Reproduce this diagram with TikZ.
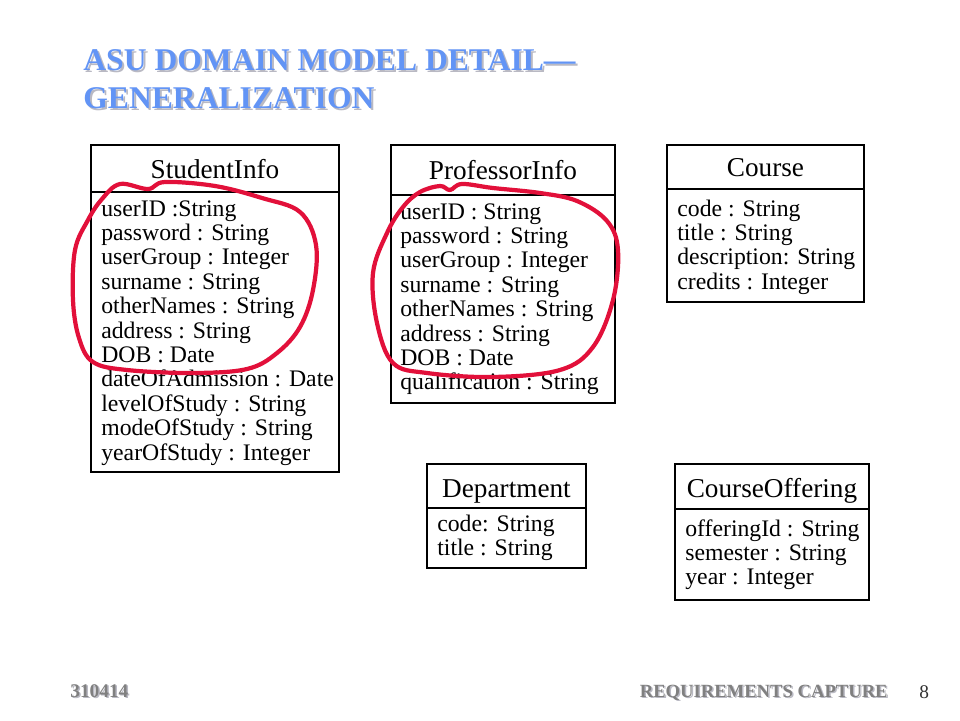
\documentclass[tikz,border=0pt]{standalone}
\usepackage{fontspec}
\setmainfont{Liberation Serif}[BoldFont={Liberation Serif Bold}]
\usepackage{tikz}
\usetikzlibrary{calc}

\definecolor{titleblue}{RGB}{98,148,245}
\definecolor{shadowgray}{RGB}{185,185,195}
\definecolor{footgray}{RGB}{128,128,128}
\definecolor{markred}{RGB}{226,16,58}

\tikzset{
  classbox/.style={draw=black, line width=0.7pt},
  classname/.style={font=\fontsize{15.5}{17}\selectfont, anchor=base, inner sep=0pt},
  attr/.style={font=\fontsize{13.5}{14}\selectfont, anchor=base west, inner sep=0pt},
  slidetitle/.style={font=\fontsize{18}{20}\selectfont\bfseries, anchor=base west, inner sep=0pt},
  scribble/.style={draw=markred, line width=2.4pt, line cap=round, line join=round}
}

\begin{document}
\begin{tikzpicture}[x=0.02cm, y=-0.02cm]
\useasboundingbox (0,0) rectangle (960,720);

% Title with shadow
\node[slidetitle, text=shadowgray] (titleAshadow) at (85,72) {ASU DOMAIN MODEL DETAIL---};
\node[slidetitle, text=shadowgray] (titleBshadow) at (85,110) {GENERALIZATION};
\node[slidetitle, text=titleblue] (titleA) at (83,70) {ASU DOMAIN MODEL DETAIL---};
\node[slidetitle, text=titleblue] (titleB) at (83,108) {GENERALIZATION};

% StudentInfo
\draw[classbox] (91,145) rectangle (339,472);
\draw[classbox] (91,192) -- (339,192);
\node[classname] (stuName) at (215,178) {StudentInfo};
\foreach \txt [count=\i from 0] in {userID :String, password : String, userGroup : Integer,
    surname : String, otherNames : String, address : String, DOB : Date,
    dateOfAdmission : Date, levelOfStudy : String, modeOfStudy : String, yearOfStudy : Integer}
  \node[attr] (stu\i) at (101,{216+\i*24.4}) {\txt};

% ProfessorInfo
\draw[classbox] (391,145) rectangle (615,403);
\draw[classbox] (391,195) -- (615,195);
\node[classname] (profName) at (503,179) {ProfessorInfo};
\foreach \txt [count=\i from 0] in {userID : String, password : String, userGroup : Integer,
    surname : String, otherNames : String, address : String, DOB : Date, qualification : String}
  \node[attr] (prof\i) at (400,{219+\i*24.4}) {\txt};

% Course
\draw[classbox] (667,145) rectangle (864,302);
\draw[classbox, line width=1.4pt] (667,189) -- (864,189);
\node[classname] (crsName) at (765.5,176) {Course};
\foreach \txt [count=\i from 0] in {code : String, title : String, description: String, credits : Integer}
  \node[attr] (crs\i) at (677,{216+\i*24.4}) {\txt};

% Department
\draw[classbox] (427,464) rectangle (586,568);
\draw[classbox] (427,508) -- (586,508);
\node[classname] (deptName) at (506.5,497) {Department};
\foreach \txt [count=\i from 0] in {code: String, title : String}
  \node[attr] (dept\i) at (437,{531+\i*24.4}) {\txt};

% CourseOffering
\draw[classbox] (675,464) rectangle (869,600);
\draw[classbox, line width=1.4pt] (675,509) -- (869,509);
\node[classname] (offName) at (772,497) {CourseOffering};
\foreach \txt [count=\i from 0] in {offeringId : String, semester : String, year : Integer}
  \node[attr] (off\i) at (685,{536+\i*24.4}) {\txt};

% Hand-drawn marks round the shared attributes
\draw[scribble] plot[smooth cycle, tension=0.6] coordinates {
  (120,184) (148,189) (165,182) (215,186) (262,198) (300,212) (316,245) (313,290)
  (300,327) (277,353) (247,369) (193,373) (127,370) (93,362) (79,338) (73,300)
  (75,250) (88,220) (102,199)};
\draw[scribble] plot[smooth cycle, tension=0.6] coordinates {
  (420,192) (440,186) (450,190) (462,184) (493,188) (540,193) (577,201) (607,221)
  (618,250) (613,300) (593,347) (560,370) (493,377) (427,373) (393,363) (377,323)
  (373,273) (387,233) (403,207)};

% Footer
\node[font=\fontsize{11}{12}\selectfont\bfseries, text=shadowgray, anchor=base west, inner sep=0pt] (dateShadow) at (71.5,698.5) {310414};
\node[font=\fontsize{11}{12}\selectfont\bfseries, text=footgray, anchor=base west, inner sep=0pt] (date) at (70,697) {310414};
\node[font=\fontsize{10.6}{12}\selectfont\bfseries, text=shadowgray, anchor=base east, inner sep=0pt] (footShadow) at (889.5,698.5) {REQUIREMENTS CAPTURE};
\node[font=\fontsize{10.6}{12}\selectfont\bfseries, text=footgray, anchor=base east, inner sep=0pt] (foot) at (888,697) {REQUIREMENTS CAPTURE};
\node[font=\fontsize{11}{12}\selectfont, text=black!80, anchor=base west, inner sep=0pt] (pageNo) at (919,698) {8};

\end{tikzpicture}
\end{document}
